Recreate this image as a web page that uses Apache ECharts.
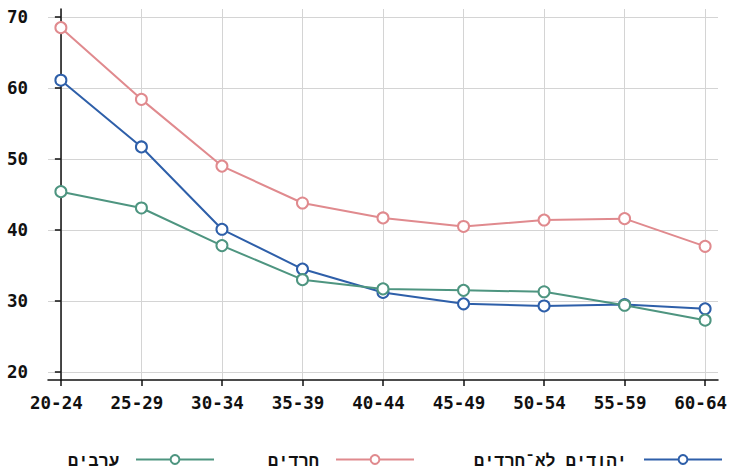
<!DOCTYPE html>
<html><head><meta charset="utf-8">
<script src="https://cdn.jsdelivr.net/npm/echarts@6/dist/echarts.min.js"></script>
<style>html,body{margin:0;padding:0;background:#fff}#c{width:731px;height:470px}</style>
</head><body><div id="c"></div>
<script>
const categories = ['20-24','25-29','30-34','35-39','40-44','45-49','50-54','55-59','60-64'];
const yTicks = [20,30,40,50,60,70];
const seriesNames = ['יהודים לא־חרדים','חרדים','ערבים'];
const jewsNonHaredi = [61.1,51.7,40.1,34.5,31.2,29.6,29.3,29.5,28.9];
const haredim = [68.5,58.4,49.0,43.8,41.7,40.5,41.4,41.6,37.7];
const arabs = [45.4,43.1,37.8,33.0,31.7,31.5,31.3,29.4,27.3];
const colors = ['#2e5fa9','#e08a8e','#4e9580'];
const FONT = '"DejaVu Sans Mono", "Liberation Mono", monospace';
const idx = categories.map((_, i) => i);
function pts(arr){ return arr.map((v,i)=>[i,v]); }
const chart = echarts.init(document.getElementById('c'), null, {renderer:'svg'});
const mk = (name, data, color) => ({
  name, type:'line', data: pts(data),
  symbol:'circle', symbolSize:11,
  lineStyle:{color, width:2},
  itemStyle:{color:'#fff', borderColor:color, borderWidth:2},
  emphasis:{disabled:true}
});
const legendRight = [8, 316, 516];
const mkLegend = (i) => ({
  data:[seriesNames[i]],
  right:legendRight[i], top:451, padding:0, align:'right',
  itemWidth:78, itemHeight:11,
  textStyle:{fontFamily:FONT, fontSize:17, fontWeight:'bold', color:'#111', padding:[0,12,0,0]}
});
chart.setOption({
  animation:false,
  grid:{left:48, right:13, top:9, bottom:90, containLabel:false},
  xAxis:{type:'value', min:-0.16, max:8.16,
    axisLine:{show:true, onZero:false, lineStyle:{color:'#111', width:1.5}},
    axisTick:{show:true, length:6, customValues:idx, lineStyle:{color:'#111', width:1.5}},
    axisLabel:{customValues:idx, formatter:v=>categories[Math.round(v)], margin:14,
      padding:[0,9,0,0],
      fontFamily:FONT, fontSize:17.5, fontWeight:'bold', color:'#111'},
    splitLine:{show:true, lineStyle:{color:'#d4d4d4', width:1}}
  },
  yAxis:{type:'value', min:18.87, max:71.13,
    axisLine:{show:true, lineStyle:{color:'#111', width:1.5}},
    axisTick:{show:true, length:6, customValues:yTicks, lineStyle:{color:'#111', width:1.5}},
    axisLabel:{customValues:yTicks, margin:20,
      fontFamily:FONT, fontSize:17.5, fontWeight:'bold', color:'#111'},
    splitLine:{show:true, lineStyle:{color:'#d4d4d4', width:1}}
  },
  legend:[mkLegend(0), mkLegend(1), mkLegend(2)],
  series:[
    mk(seriesNames[0], jewsNonHaredi, colors[0]),
    mk(seriesNames[1], haredim, colors[1]),
    mk(seriesNames[2], arabs, colors[2])
  ]
});
</script></body></html>
